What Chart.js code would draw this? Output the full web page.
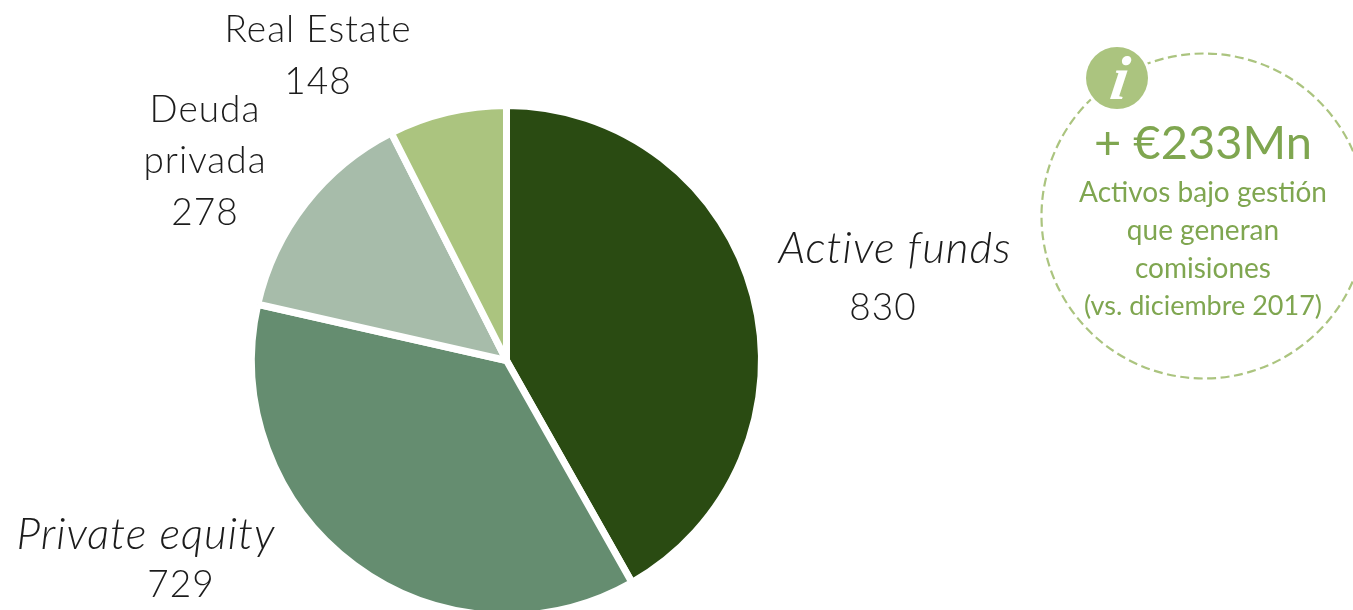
<!DOCTYPE html>
<html lang="es">
<head>
<meta charset="utf-8">
<title>Activos bajo gestión</title>
<script src="https://cdn.jsdelivr.net/npm/chart.js@4/dist/chart.umd.min.js"></script>
<style>
    html, body { margin: 0; padding: 0; background: #fff; overflow: hidden; width: 1353px; height: 610px; }
    #chartBox { position: absolute; left: 0; top: 0; width: 1353px; height: 640px; }
</style>
</head>
<body>
<div id="chartBox"><canvas id="assetsChart"></canvas></div>
<script>
// Assets under management by type
const categories = ['Active funds', 'Private equity', 'Deuda privada', 'Real Estate'];
const seriesValues = [830, 729, 278, 148];
const sliceColors = ['#2a4b12', '#658d70', '#a7bcaa', '#abc47f'];

const calloutTitle = '+ €233Mn';
const calloutLines = ['Activos bajo gestión', 'que generan', 'comisiones', '(vs. diciembre 2017)'];

const INK = '#1c1c1c';
const GREEN_LIGHT = '#abc47f';
const GREEN_TEXT = '#7fa650';
const FONT = 'Lato, Carlito, "Open Sans", sans-serif';

function drawText(ctx, text, x, y, size, color, style) {
    ctx.font = (style || '300') + ' ' + size + 'px ' + FONT;
    ctx.fillStyle = color;
    ctx.fillText(text, x, y);
}

// Category names and amounts around the pie
const sliceLabels = {
    id: 'sliceLabels',
    afterDraw(chart) {
        const ctx = chart.ctx;
        ctx.save();
        ctx.textAlign = 'center';
        ctx.textBaseline = 'alphabetic';
        ctx.letterSpacing = '1px';

        drawText(ctx, categories[3], 318, 42, 37, INK);
        drawText(ctx, String(seriesValues[3]), 318, 94, 37, INK);

        const debtWords = categories[2].split(' ');
        drawText(ctx, debtWords[0], 205, 122, 37, INK);
        drawText(ctx, debtWords[1], 205, 173, 37, INK);
        drawText(ctx, String(seriesValues[2]), 205, 225, 37, INK);

        drawText(ctx, categories[0], 895, 263, 44, INK, 'italic 300');
        drawText(ctx, String(seriesValues[0]), 883, 320, 37, INK);

        drawText(ctx, categories[1], 146, 549, 44, INK, 'italic 300');
        drawText(ctx, String(seriesValues[1]), 181, 597, 37, INK);
        ctx.restore();
    }
};

// Dashed circle with the info badge and the yearly change
const callout = {
    id: 'callout',
    afterDraw(chart) {
        const ctx = chart.ctx;
        ctx.save();

        ctx.beginPath();
        ctx.arc(1204, 216, 162.5, 0, Math.PI * 2);
        ctx.setLineDash([9, 4.5]);
        ctx.lineWidth = 2.2;
        ctx.strokeStyle = GREEN_LIGHT;
        ctx.stroke();
        ctx.setLineDash([]);

        // white ring keeps the dashes away from the badge
        ctx.beginPath();
        ctx.arc(1117, 78, 31, 0, Math.PI * 2);
        ctx.lineWidth = 6;
        ctx.strokeStyle = '#fff';
        ctx.stroke();
        ctx.fillStyle = GREEN_LIGHT;
        ctx.fill();

        ctx.textAlign = 'center';
        ctx.textBaseline = 'alphabetic';
        ctx.font = 'italic bold 62px "Liberation Serif", serif';
        ctx.fillStyle = '#fff';
        ctx.save();
        ctx.translate(1117, 99);
        ctx.transform(1, 0, -0.15, 1, 0, 0);
        ctx.fillText('i', 0, 0);
        ctx.restore();

        drawText(ctx, calloutTitle, 1203, 159, 47, GREEN_TEXT, '400');
        const lineY = [202, 240, 278, 315];
        calloutLines.forEach((line, i) => {
            const size = i === 3 ? 27 : 28;
            drawText(ctx, line, 1203, lineY[i], size, GREEN_TEXT, '400');
        });
        ctx.restore();
    }
};

new Chart(document.getElementById('assetsChart'), {
    type: 'pie',
    data: {
        labels: categories,
        datasets: [{
            data: seriesValues,
            backgroundColor: sliceColors,
            borderColor: '#fff',
            borderWidth: 7,
            hoverOffset: 0
        }]
    },
    options: {
        responsive: true,
        maintainAspectRatio: false,
        animation: false,
        layout: { padding: { left: 248, right: 588, top: 102, bottom: 21 } },
        plugins: {
            legend: { display: false },
            tooltip: { enabled: false }
        }
    },
    plugins: [sliceLabels, callout]
});
</script>
</body>
</html>
